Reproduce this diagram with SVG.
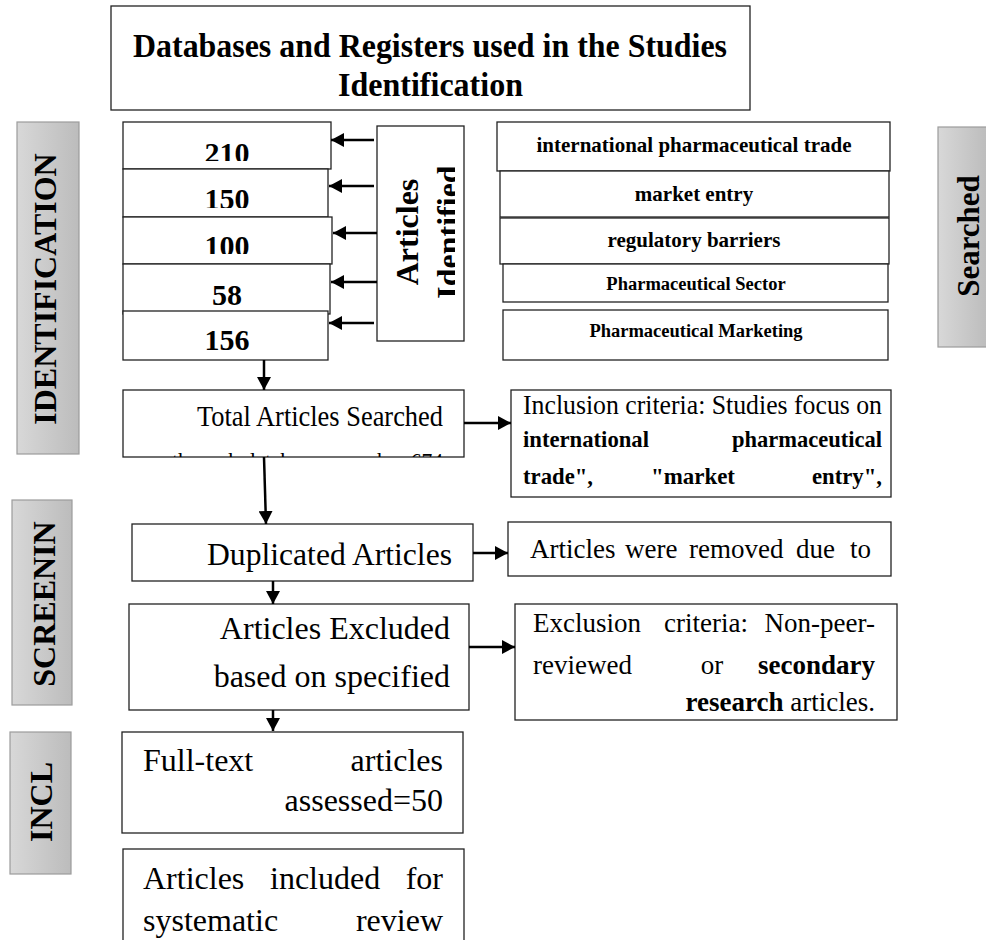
<svg xmlns="http://www.w3.org/2000/svg" width="986" height="940" viewBox="0 0 986 940">
<defs>
<style>
.box{fill:#fff;stroke:#222;stroke-width:1.3}
.side{fill:url(#g);stroke:#9c9c9c;stroke-width:1.2}
.t{font-family:"Liberation Serif","Times New Roman",serif;fill:#000}
.b{font-weight:bold}
.c{stroke:#000;stroke-width:2.5;fill:none}
</style>
<linearGradient id="g" x1="0" y1="0" x2="1" y2="0">
<stop offset="0" stop-color="#d8d8d8"/><stop offset="1" stop-color="#bcbcbc"/>
</linearGradient>
<marker id="ah" markerUnits="userSpaceOnUse" markerWidth="14" markerHeight="14" refX="13" refY="7" orient="auto">
<path d="M0,0 L13,7 L0,14 z" fill="#000"/>
</marker>
<clipPath id="c210"><rect x="123" y="122" width="208" height="39"/></clipPath>
<clipPath id="c150"><rect x="123" y="169" width="205" height="39"/></clipPath>
<clipPath id="c100"><rect x="123" y="217" width="209" height="37"/></clipPath>
<clipPath id="cid"><rect x="377" y="126" width="78" height="215"/></clipPath>
<clipPath id="ctot"><rect x="123" y="390" width="341" height="67"/></clipPath>
<clipPath id="cinc"><rect x="123" y="849" width="341" height="91"/></clipPath>
</defs>

<g id="title">
<rect class="box" x="111" y="6" width="639" height="104"/>
<text class="t b" x="133" y="57" font-size="34" textLength="594" lengthAdjust="spacingAndGlyphs">Databases and Registers used in the Studies</text>
<text class="t b" x="338" y="96" font-size="34" textLength="185" lengthAdjust="spacingAndGlyphs">Identification</text>
</g>

<g id="side-identification">
<rect class="side" x="17" y="122" width="62" height="332"/>
<text class="t b" transform="translate(56,289) rotate(-90)" font-size="32" text-anchor="middle">IDENTIFICATION</text>
</g>
<g id="side-screening">
<rect class="side" x="12" y="500" width="60" height="205"/>
<text class="t b" transform="translate(55,604) rotate(-90)" font-size="32" text-anchor="middle">SCREENIN</text>
</g>
<g id="side-included">
<rect class="side" x="10" y="732" width="61" height="142"/>
<text class="t b" transform="translate(52,802) rotate(-90)" font-size="32" text-anchor="middle">INCL</text>
</g>
<g id="side-searched">
<rect class="side" x="938" y="127" width="50" height="220"/>
<text class="t b" transform="translate(979,236) rotate(-90)" font-size="31" text-anchor="middle">Searched</text>
</g>

<g id="n210">
<rect class="box" x="123" y="122" width="208" height="47"/>
<text class="t b" x="227" y="163" font-size="30" text-anchor="middle" clip-path="url(#c210)">210</text>
</g>
<g id="n150">
<rect class="box" x="123" y="169" width="205" height="48"/>
<text class="t b" x="227" y="209" font-size="30" text-anchor="middle" clip-path="url(#c150)">150</text>
</g>
<g id="n100">
<rect class="box" x="123" y="217" width="209" height="47"/>
<text class="t b" x="227" y="256" font-size="30" text-anchor="middle" clip-path="url(#c100)">100</text>
</g>
<g id="n58">
<rect class="box" x="123" y="264" width="207" height="50"/>
<text class="t b" x="227" y="305" font-size="30" text-anchor="middle">58</text>
</g>
<g id="n156">
<rect class="box" x="123" y="311" width="205" height="49"/>
<text class="t b" x="227" y="350" font-size="30" text-anchor="middle">156</text>
</g>

<g id="articles-identified">
<rect class="box" x="377" y="126" width="87" height="215"/>
<g clip-path="url(#cid)">
<text class="t b" transform="translate(418,232) rotate(-90)" font-size="32" text-anchor="middle">Articles</text>
<text class="t b" transform="translate(459,232) rotate(-90)" font-size="32" text-anchor="middle">Identified</text>
</g>
</g>

<g id="kw1">
<rect class="box" x="497" y="122" width="393" height="49"/>
<text class="t b" x="694" y="152" font-size="21" text-anchor="middle">international pharmaceutical trade</text>
</g>
<g id="kw2">
<rect class="box" x="500" y="171" width="389" height="46"/>
<text class="t b" x="694" y="201" font-size="21" text-anchor="middle">market entry</text>
</g>
<g id="kw3">
<rect class="box" x="500" y="218" width="389" height="46"/>
<text class="t b" x="694" y="247" font-size="21" text-anchor="middle">regulatory barriers</text>
</g>
<g id="kw4">
<rect class="box" x="503" y="264" width="385" height="38"/>
<text class="t b" x="696" y="290" font-size="18.5" text-anchor="middle">Pharmaceutical Sector</text>
</g>
<g id="kw5">
<rect class="box" x="503" y="310" width="385" height="50"/>
<text class="t b" x="696" y="337" font-size="18.5" text-anchor="middle">Pharmaceutical Marketing</text>
</g>

<g id="total">
<rect class="box" x="123" y="390" width="341" height="67"/>
<text class="t" x="197" y="426" font-size="30" textLength="246" lengthAdjust="spacingAndGlyphs">Total Articles Searched</text>
<g clip-path="url(#ctot)">
<text class="t" x="172" y="469" font-size="23" textLength="271" lengthAdjust="spacingAndGlyphs">through databases search = 674</text>
</g>
</g>

<g id="inclusion">
<rect class="box" x="511" y="390" width="380" height="107"/>
<text class="t" x="523" y="414" font-size="27" textLength="359" lengthAdjust="spacingAndGlyphs">Inclusion criteria: Studies focus on</text>
<text class="t b" x="523" y="447" font-size="23" textLength="126" lengthAdjust="spacingAndGlyphs">international</text>
<text class="t b" x="732" y="447" font-size="23" textLength="150" lengthAdjust="spacingAndGlyphs">pharmaceutical</text>
<text class="t b" x="523" y="484" font-size="23" textLength="70" lengthAdjust="spacingAndGlyphs">trade",</text>
<text class="t b" x="651" y="484" font-size="23" textLength="84" lengthAdjust="spacingAndGlyphs">"market</text>
<text class="t b" x="812" y="484" font-size="23" textLength="70" lengthAdjust="spacingAndGlyphs">entry",</text>
</g>

<g id="duplicated">
<rect class="box" x="132" y="524" width="341" height="57"/>
<text class="t" x="207" y="565" font-size="32" textLength="245" lengthAdjust="spacingAndGlyphs">Duplicated Articles</text>
</g>

<g id="removed">
<rect class="box" x="508" y="522" width="383" height="54"/>
<text class="t" x="530" y="558" font-size="27">Articles</text>
<text class="t" x="625" y="558" font-size="27">were</text>
<text class="t" x="689" y="558" font-size="27">removed</text>
<text class="t" x="796" y="558" font-size="27">due</text>
<text class="t" x="871" y="558" font-size="27" text-anchor="end">to</text>
</g>

<g id="excluded">
<rect class="box" x="129" y="604" width="340" height="106"/>
<text class="t" x="450" y="639" font-size="32" text-anchor="end">Articles Excluded</text>
<text class="t" x="450" y="687" font-size="32" text-anchor="end">based on specified</text>
</g>

<g id="exclusion">
<rect class="box" x="515" y="604" width="382" height="116"/>
<text class="t" x="533" y="632" font-size="27">Exclusion</text>
<text class="t" x="664" y="632" font-size="27">criteria:</text>
<text class="t" x="875" y="632" font-size="27" text-anchor="end">Non-peer-</text>
<text class="t" x="533" y="674" font-size="27">reviewed</text>
<text class="t" x="712" y="674" font-size="27" text-anchor="middle">or</text>
<text class="t b" x="875" y="674" font-size="27" text-anchor="end">secondary</text>
<text class="t" x="875" y="711" font-size="27" text-anchor="end"><tspan class="b">research</tspan> articles.</text>
</g>

<g id="fulltext">
<rect class="box" x="122" y="732" width="341" height="101"/>
<text class="t" x="143" y="771" font-size="32">Full-text</text>
<text class="t" x="443" y="771" font-size="32" text-anchor="end">articles</text>
<text class="t" x="443" y="811" font-size="32" text-anchor="end">assessed=50</text>
</g>

<g id="included">
<rect class="box" x="123" y="849" width="341" height="110"/>
<g clip-path="url(#cinc)">
<text class="t" x="143" y="889" font-size="32">Articles</text>
<text class="t" x="270" y="889" font-size="32">included</text>
<text class="t" x="443" y="889" font-size="32" text-anchor="end">for</text>
<text class="t" x="143" y="931" font-size="32">systematic</text>
<text class="t" x="443" y="931" font-size="32" text-anchor="end">review</text>
</g>
</g>

<g id="connectors">
<line class="c" x1="374" y1="140" x2="331" y2="140" marker-end="url(#ah)"/>
<line class="c" x1="374" y1="186" x2="329" y2="186" marker-end="url(#ah)"/>
<line class="c" x1="377" y1="233" x2="333" y2="233" marker-end="url(#ah)"/>
<line class="c" x1="377" y1="282" x2="331" y2="282" marker-end="url(#ah)"/>
<line class="c" x1="374" y1="323" x2="329" y2="323" marker-end="url(#ah)"/>
<line class="c" x1="264" y1="360" x2="264" y2="390" marker-end="url(#ah)"/>
<line class="c" x1="464" y1="423" x2="511" y2="423" marker-end="url(#ah)"/>
<line class="c" x1="264" y1="457" x2="266" y2="524" marker-end="url(#ah)"/>
<line class="c" x1="473" y1="553" x2="508" y2="553" marker-end="url(#ah)"/>
<line class="c" x1="273" y1="581" x2="273" y2="604" marker-end="url(#ah)"/>
<line class="c" x1="469" y1="647" x2="515" y2="647" marker-end="url(#ah)"/>
<line class="c" x1="273" y1="710" x2="273" y2="731" marker-end="url(#ah)"/>
</g>
</svg>
